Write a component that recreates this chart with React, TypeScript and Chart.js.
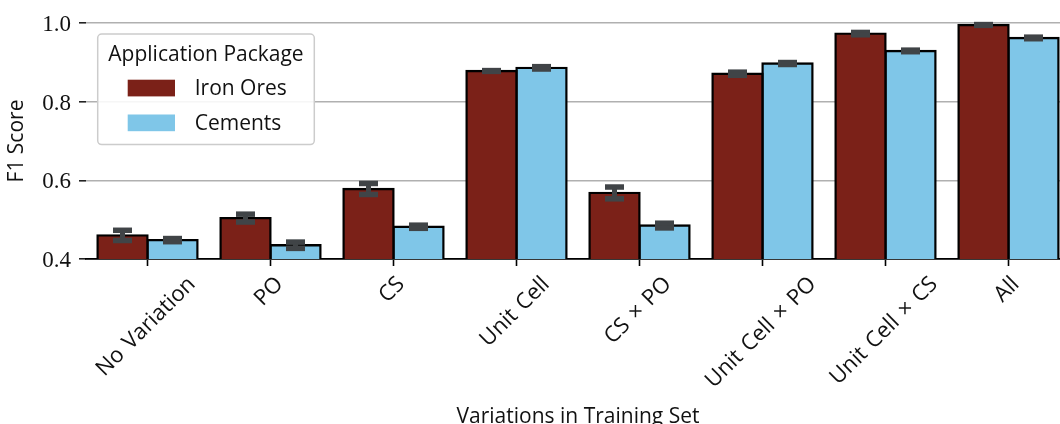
import React, { useEffect, useRef } from 'react';
import { Chart, registerables } from 'chart.js';

Chart.register(...registerables);

// ---------- data ----------
const CATEGORIES = [
  'No Variation',
  'PO',
  'CS',
  'Unit Cell',
  'CS × PO',
  'Unit Cell × PO',
  'Unit Cell × CS',
  'All',
];
const SERIES_NAMES = ['Iron Ores', 'Cements'];
const IRON_ORES = [0.46, 0.504, 0.578, 0.878, 0.568, 0.871, 0.973, 0.995];
const CEMENTS = [0.448, 0.435, 0.482, 0.886, 0.485, 0.897, 0.929, 0.962];
const IRON_ORES_ERR = [0.013, 0.01, 0.014, 0.001, 0.015, 0.004, 0.003, 0.001];
const CEMENTS_ERR = [0.004, 0.008, 0.004, 0.003, 0.006, 0.0025, 0.002, 0.002];
const Y_TICKS = [0.4, 0.6, 0.8, 1.0];
const Y_TICK_LABELS = ['0.4', '0.6', '0.8', '1.0'];
const LEGEND_TITLE = 'Application Package';
const X_TITLE = 'Variations in Training Set';
const Y_TITLE = 'F1 Score';

// ---------- style ----------
const SANS = '"Open Sans", "DejaVu Sans", sans-serif';
const SERIF = '"Liberation Serif", "DejaVu Serif", serif';
const IRON_COLOR = '#7b2118';
const CEMENT_COLOR = '#7fc6e8';
const ERR_COLOR = '#404447';
const TEXT_COLOR = '#111111';
const CANVAS_W = 1070;
const CANVAS_H = 440;
const PLOT_BOTTOM = 259;
const SANS_SIZE = 21;
const TICK_SIZE = 22;

const errorBarPlugin = {
  id: 'errorBars',
  afterDatasetsDraw(chart: any) {
    const ctx = chart.ctx;
    const y = chart.scales.y;
    chart.data.datasets.forEach((ds: any, di: number) => {
      const meta = chart.getDatasetMeta(di);
      meta.data.forEach((bar: any, i: number) => {
        const v = ds.data[i];
        const e = ds.errors[i];
        const yHi = y.getPixelForValue(v + e);
        const yLo = y.getPixelForValue(v - e);
        ctx.save();
        ctx.fillStyle = ERR_COLOR;
        ctx.fillRect(bar.x - 2.5, yHi, 5, yLo - yHi);
        ctx.fillRect(bar.x - 9.5, yHi - 2.75, 19, 5.5);
        ctx.fillRect(bar.x - 9.5, yLo - 2.75, 19, 5.5);
        ctx.restore();
      });
    });
  },
};

const xLabelsPlugin = {
  id: 'xLabels',
  afterDraw(chart: any) {
    const ctx = chart.ctx;
    const xs = chart.scales.x;
    ctx.save();
    ctx.font = `${TICK_SIZE}px ${SANS}`;
    try {
      (ctx as any).wordSpacing = '2px';
    } catch (e) {
      /* ignore */
    }
    ctx.fillStyle = TEXT_COLOR;
    ctx.textAlign = 'center';
    ctx.textBaseline = 'middle';
    (chart.data.labels as string[]).forEach((lab, i) => {
      const x = xs.getPixelForTick(i);
      const w = ctx.measureText(lab).width;
      const cy = xs.top + 14 + 0.3536 * (w + TICK_SIZE);
      ctx.save();
      ctx.translate(x - 1.5, cy);
      ctx.rotate(-Math.PI / 4);
      ctx.fillText(lab, 0, 0);
      ctx.restore();
    });
    ctx.restore();
  },
};

function roundRect(ctx: CanvasRenderingContext2D, x: number, y: number, w: number, h: number, r: number) {
  ctx.beginPath();
  ctx.moveTo(x + r, y);
  ctx.lineTo(x + w - r, y);
  ctx.arcTo(x + w, y, x + w, y + r, r);
  ctx.lineTo(x + w, y + h - r);
  ctx.arcTo(x + w, y + h, x + w - r, y + h, r);
  ctx.lineTo(x + r, y + h);
  ctx.arcTo(x, y + h, x, y + h - r, r);
  ctx.lineTo(x, y + r);
  ctx.arcTo(x, y, x + r, y, r);
  ctx.closePath();
}

const legendPlugin = {
  id: 'boxLegend',
  afterDraw(chart: any) {
    const ctx = chart.ctx;
    const ca = chart.chartArea;
    const bx = ca.left + 11.7;
    const by = ca.top + 11;
    const bw = 216.6;
    const bh = 110.6;
    ctx.save();
    roundRect(ctx, bx, by, bw, bh, 4);
    ctx.fillStyle = 'rgba(255,255,255,0.88)';
    ctx.fill();
    ctx.strokeStyle = '#cccccc';
    ctx.lineWidth = 1.5;
    ctx.stroke();
    ctx.fillStyle = TEXT_COLOR;
    ctx.font = `${SANS_SIZE}px ${SANS}`;
    ctx.textAlign = 'center';
    ctx.textBaseline = 'middle';
    ctx.fillText(LEGEND_TITLE, bx + bw / 2, by + 21);
    const rows = [by + 54, by + 88.8];
    chart.data.datasets.forEach((ds: any, i: number) => {
      const cy = rows[i];
      ctx.fillStyle = ds.backgroundColor;
      ctx.fillRect(bx + 30, cy - 8.3, 47.3, 16.7);
      ctx.fillStyle = TEXT_COLOR;
      ctx.textAlign = 'left';
      ctx.fillText(ds.label, bx + 97, cy + 1);
    });
    ctx.restore();
  },
};

export default function App() {
  const ref = useRef<HTMLCanvasElement | null>(null);

  useEffect(() => {
    if (!ref.current) return;
    const barStyle = {
      borderColor: '#000000',
      borderWidth: 2.4,
      borderSkipped: false,
      inflateAmount: 1.2,
      barPercentage: 1,
      categoryPercentage: 0.813,
    };
    const chart = new Chart(ref.current, {
      type: 'bar',
      data: {
        labels: CATEGORIES,
        datasets: [
          {
            label: SERIES_NAMES[0],
            data: IRON_ORES,
            errors: IRON_ORES_ERR,
            backgroundColor: IRON_COLOR,
            ...barStyle,
          } as any,
          {
            label: SERIES_NAMES[1],
            data: CEMENTS,
            errors: CEMENTS_ERR,
            backgroundColor: CEMENT_COLOR,
            ...barStyle,
          } as any,
        ],
      },
      options: {
        responsive: false,
        animation: false,
        layout: { padding: { top: 23, left: 0, right: 0, bottom: 0 } },
        plugins: {
          legend: { display: false },
          tooltip: { enabled: false },
        },
        scales: {
          x: {
            type: 'category',
            offset: true,
            z: 1,
            grid: {
              display: true,
              drawOnChartArea: false,
              drawTicks: true,
              tickLength: 7,
              tickColor: '#000000',
              tickWidth: 1.6,
              offset: false,
            },
            border: { display: true, color: '#000000', width: 1.8 },
            ticks: { display: false },
            title: {
              display: true,
              text: X_TITLE,
              color: TEXT_COLOR,
              font: { family: SANS, size: SANS_SIZE },
              padding: { top: 0, bottom: 10 },
            },
            afterFit: (scale: any) => {
              scale.height = CANVAS_H - PLOT_BOTTOM;
            },
          },
          y: {
            min: 0.4,
            max: 1.0,
            afterBuildTicks: (scale: any) => {
              scale.ticks = Y_TICKS.map((v) => ({ value: v }));
            },
            ticks: {
              callback: (_v: any, i: number) => Y_TICK_LABELS[i],
              color: TEXT_COLOR,
              font: { family: SERIF, size: 23 },
              padding: 8,
              labelOffset: 2,
            },
            grid: {
              color: '#b0b0b0',
              lineWidth: 1.6,
              drawTicks: true,
              tickLength: 7,
              tickColor: '#222222',
              tickWidth: 1.6,
            },
            border: { display: false },
            title: {
              display: true,
              text: Y_TITLE,
              color: TEXT_COLOR,
              font: { family: SANS, size: SANS_SIZE },
              padding: { top: 4, bottom: 0 },
            },
            afterFit: (scale: any) => {
              scale.width = 86;
            },
          },
        },
      } as any,
      plugins: [errorBarPlugin, xLabelsPlugin, legendPlugin],
    });
    return () => chart.destroy();
  }, []);

  return (
    <div
      style={{
        position: 'fixed',
        left: 0,
        top: 0,
        width: 1060,
        height: 424,
        overflow: 'hidden',
        background: '#ffffff',
      }}
    >
      <canvas ref={ref} width={CANVAS_W} height={CANVAS_H} style={{ display: 'block' }} />
    </div>
  );
}
